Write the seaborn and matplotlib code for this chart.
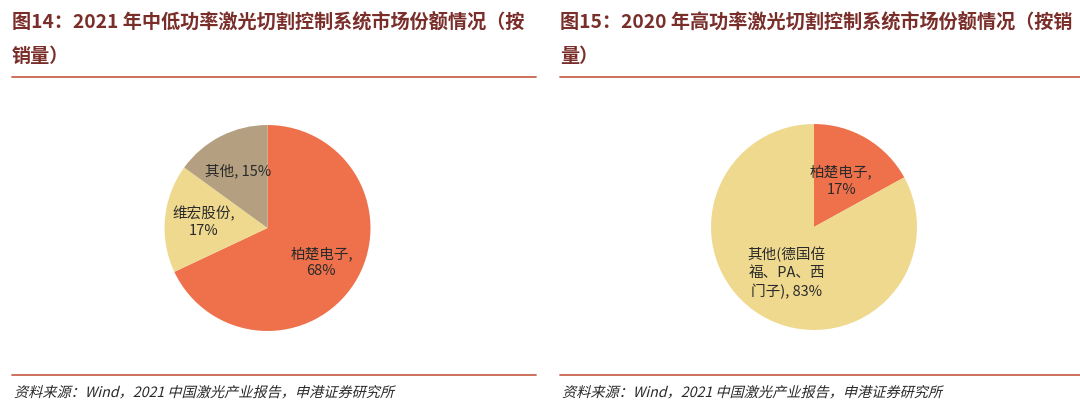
import matplotlib
matplotlib.use("Agg")
import matplotlib.pyplot as plt
import seaborn as sns
from matplotlib.textpath import TextPath
from matplotlib.patches import PathPatch
from matplotlib.font_manager import FontProperties
from matplotlib.transforms import Affine2D

#data for the two pies
left_labels = ["柏楚电子,\n68%", "维宏股份,\n17%", "其他, 15%"]
left_shares = [68, 17, 15]
left_colors = ["#EE714B", "#EFD98F", "#B49F80"]

right_labels = ["柏楚电子,\n17%", "其他(德国倍\n福、PA、西\n门子), 83%"]
right_shares = [17, 83]
right_colors = ["#EE714B", "#EFD98F"]

left_title = ["图14：2021 年中低功率激光切割控制系统市场份额情况（按", "销量）"]
right_title = ["图15：2020 年高功率激光切割控制系统市场份额情况（按销", "量）"]
source_text = "资料来源：Wind，2021 中国激光产业报告，申港证券研究所"

sns.set_theme(style="white")
plt.rcParams['font.family'] = ['Noto Sans CJK SC', 'DejaVu Sans']

W, H = 1080, 415
fig = plt.figure(figsize=(W / 100, H / 100), dpi=100)

title_color = "#7A2E2A"
rule_color = "#C8644E"


def px_axes(cx, cy, r):
    #axes box in figure fractions from a centre and radius in pixels
    return [(cx - r) / W, (H - cy - r) / H, 2 * r / W, 2 * r / H]


def draw_pie(rect, shares, labels, colors, dist):
    ax = fig.add_axes(rect)
    wedges, texts = ax.pie(shares, labels=labels, colors=colors, startangle=90,
                           counterclock=False, labeldistance=dist,
                           wedgeprops=dict(linewidth=0),
                           textprops=dict(fontsize=10.5, color="#2a2a2a"))
    for t in texts:
        t.set_ha("center")
        t.set_va("center")
        t.set_multialignment("center")
        t.set_linespacing(1.3)
    ax.set_xlim(-1.01, 1.01)
    ax.set_ylim(-1.01, 1.01)
    ax.set_aspect("equal")
    ax.axis("off")
    return ax


draw_pie(px_axes(267.5, 228, 104), left_shares, left_labels, left_colors, 0.62)
draw_pie(px_axes(814, 227, 104), right_shares, right_labels, right_colors, 0.52)

#slanted source line (the CJK font has no italic, so skew the glyph outlines)
src_font = FontProperties(family="Noto Sans CJK SC")


def slanted_text(x_px, y_px, s, size_pt):
    path = TextPath((0, 0), s, size=size_pt * 100 / 72, prop=src_font)
    tr = Affine2D().skew_deg(14, 0).translate(x_px, y_px)
    fig.add_artist(PathPatch(path, transform=tr, facecolor="#2a2a2a",
                             edgecolor="none"))


#titles, rules and sources for both panels
for x0, x1, title in [(12, 536, left_title), (560, 1080, right_title)]:
    fig.text(x0 / W, 1 - 22 / H, title[0], fontsize=13.8, fontweight="bold",
             color=title_color, va="center", ha="left")
    fig.text(x0 / W, 1 - 57 / H, title[1], fontsize=13.8, fontweight="bold",
             color=title_color, va="center", ha="left")
    for y in (77, 375):
        fig.add_artist(plt.Line2D([x0 / W, x1 / W], [1 - y / H, 1 - y / H],
                                  color=rule_color, lw=1.3))
    slanted_text(x0 + 2, H - 397, source_text, 10.2)

fig.savefig("out.png", dpi=100, facecolor="white")
